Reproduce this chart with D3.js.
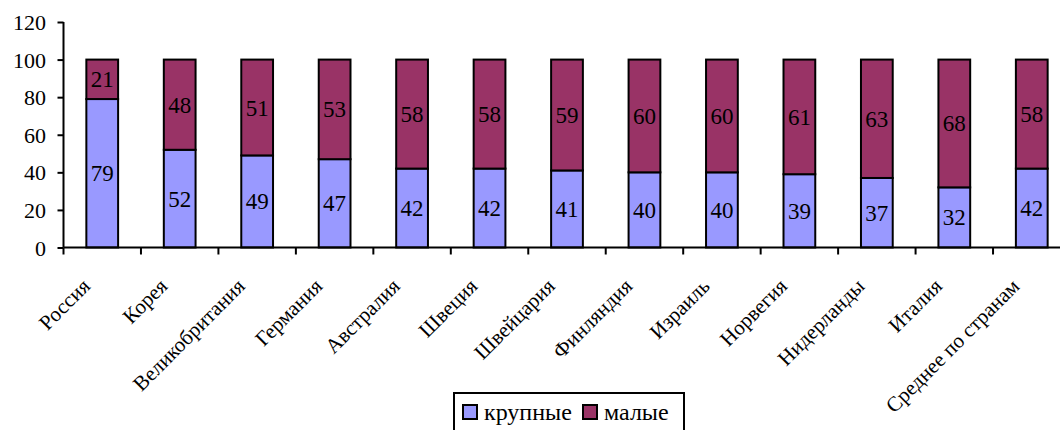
<!DOCTYPE html>
<html><head><meta charset="utf-8">
<script src="https://cdn.jsdelivr.net/npm/d3@7"></script>
<style>svg text{font-family:'Liberation Serif','Tinos','FreeSerif',serif !important;}</style>
</head><body style="margin:0">
<svg id="c" width="1060" height="430"></svg>
<script>
const categories = ["Россия","Корея","Великобритания","Германия","Австралия","Швеция","Швейцария","Финляндия","Израиль","Норвегия","Нидерланды","Италия","Среднее по странам"];
const large = [79,52,49,47,42,42,41,40,40,39,37,32,42];
const small = [21,48,51,53,58,58,59,60,60,61,63,68,58];
const seriesNames = ["крупные","малые"];
const seriesColors = ["#9999FF","#993366"];
const yTicks = [0,20,40,60,80,100,120];

const svg = d3.select("#c");
const x = d3.scaleBand().domain(categories).range([63.5, 1070.5]).paddingInner(0.59).paddingOuter(0.295);
const y = d3.scaleLinear().domain([0,120]).range([247.5, 22]);

const data = categories.map((c,i)=>({cat:c, v:[large[i], small[i]]}));

function txt(sel){ return sel.style("font-family","'Liberation Serif'"); }

// bars
data.forEach(d=>{
  let acc = 0;
  d.v.forEach((v,k)=>{
    const y0 = y(acc), y1 = y(acc+v);
    svg.append("rect").attr("x", x(d.cat)).attr("y", y1).attr("width", x.bandwidth()).attr("height", y0-y1)
      .attr("fill", seriesColors[k]).attr("stroke","#000").attr("stroke-width",2);
    acc += v;
  });
});
data.forEach(d=>{
  let acc = 0;
  d.v.forEach((v,k)=>{
    const y0 = y(acc), y1 = y(acc+v);
    txt(svg.append("text")).attr("x", x(d.cat)+x.bandwidth()/2).attr("y", (y0+y1)/2 + 8)
      .attr("text-anchor","middle").style("font-size","23px").text(v);
    acc += v;
  });
});

// y axis
const ya = svg.append("g").attr("transform","translate(63.5,0)")
  .call(d3.axisLeft(y).tickValues(yTicks).tickSize(6).tickPadding(11));
ya.attr("font-family", null).attr("font-size", null);
ya.select(".domain").attr("stroke","#000").attr("stroke-width",2).attr("d","M0,"+y(120)+"V"+y(0));
ya.selectAll(".tick line").attr("stroke","#000").attr("stroke-width",2);
ya.selectAll(".tick text").remove();
yTicks.forEach(t=>{
  txt(svg.append("text")).attr("x",46).attr("y",y(t)+8).attr("text-anchor","end").style("font-size","22px").text(t);
});

// x axis
svg.append("line").attr("x1",63.5).attr("x2",1070).attr("y1",y(0)).attr("y2",y(0)).attr("stroke","#000").attr("stroke-width",2);
const step = x.step();
categories.forEach(c=>{
  const left = x(c) + x.bandwidth()/2 - step/2;
  svg.append("line").attr("x1",left).attr("x2",left).attr("y1",y(0)).attr("y2",y(0)+7).attr("stroke","#000").attr("stroke-width",2);
});
categories.forEach(c=>{
  const cx = x(c)+x.bandwidth()/2;
  txt(svg.append("text")).attr("text-anchor","end")
    .attr("transform","translate("+(cx-11)+","+(y(0)+40)+") rotate(-45)")
    .style("font-size","21px").text(c);
});

// legend
svg.append("rect").attr("x",454).attr("y",393).attr("width",230).attr("height",45).attr("fill","#fff").attr("stroke","#000").attr("stroke-width",2);
const lx = [463, 583];
seriesNames.forEach((n,k)=>{
  svg.append("rect").attr("x",lx[k]).attr("y",405).attr("width",14).attr("height",14).attr("fill",seriesColors[k]).attr("stroke","#000").attr("stroke-width",2);
  txt(svg.append("text")).attr("x",lx[k]+21).attr("y",420).style("font-size","24px").text(n);
});
</script>
</body></html>
